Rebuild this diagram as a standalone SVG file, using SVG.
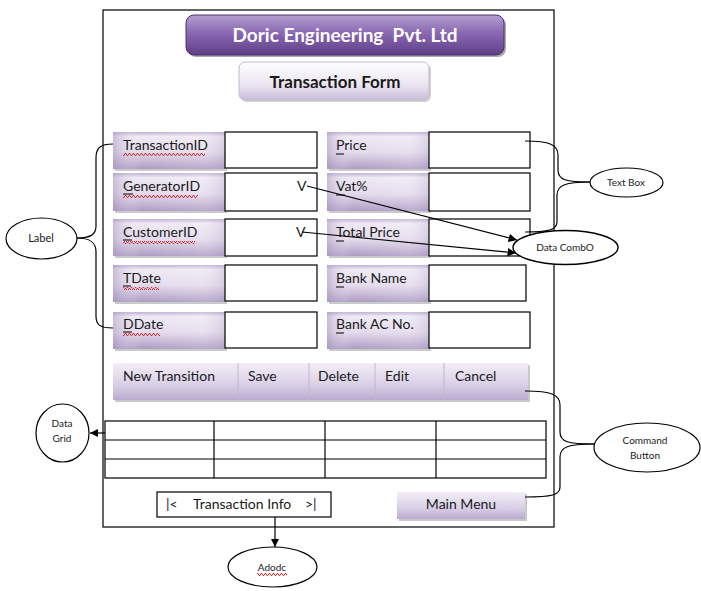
<svg xmlns="http://www.w3.org/2000/svg" width="701" height="591" viewBox="0 0 701 591">
<defs>
<style>
text{font-family:Lato,"Liberation Sans",Arial,sans-serif;fill:#1a1a1a}
.lt{font-size:14px}
.sm{font-size:10px}
.tb{fill:#fff;stroke:#000;stroke-width:1.2}
.lb{fill:url(#lg)}
.lo{fill:url(#lh)}
.sh{fill:#8a8a8a;opacity:0.45}
.ln{fill:none;stroke:#000;stroke-width:1.2}
.el{fill:#fff;stroke:#000;stroke-width:1.2}
.ul{stroke:#000;stroke-width:1}
.sq{fill:url(#sqp)}
</style>
<linearGradient id="lg" x1="0" y1="0" x2="0" y2="1">
<stop offset="0" stop-color="#bfb0d3"/>
<stop offset="0.12" stop-color="#eee9f4"/>
<stop offset="0.55" stop-color="#e3daec"/>
<stop offset="1" stop-color="#ad9bc3"/>
</linearGradient>
<linearGradient id="lh" x1="0" y1="0" x2="1" y2="0">
<stop offset="0" stop-color="#a592bd" stop-opacity="0.5"/>
<stop offset="0.25" stop-color="#ffffff" stop-opacity="0"/>
<stop offset="0.8" stop-color="#ffffff" stop-opacity="0.15"/>
<stop offset="1" stop-color="#b4a4c8" stop-opacity="0.3"/>
</linearGradient>
<linearGradient id="bg" x1="0" y1="0" x2="0" y2="1">
<stop offset="0" stop-color="#f2eef7"/>
<stop offset="0.6" stop-color="#d9cfe6"/>
<stop offset="1" stop-color="#bba9cf"/>
</linearGradient>
<linearGradient id="tg" x1="0" y1="0" x2="0" y2="1">
<stop offset="0" stop-color="#b29ed0"/>
<stop offset="0.45" stop-color="#8a68b2"/>
<stop offset="1" stop-color="#5e3f86"/>
</linearGradient>
<linearGradient id="fg" x1="0" y1="0" x2="0" y2="1">
<stop offset="0" stop-color="#ffffff"/>
<stop offset="0.6" stop-color="#ebe5f2"/>
<stop offset="1" stop-color="#c9bcd9"/>
</linearGradient>
<pattern id="sqp" width="4" height="3" patternUnits="userSpaceOnUse">
<path d="M0,2.5 L1,0.5 L2,0.5 L3,2.5 L4,2.5" fill="none" stroke="#d32020" stroke-width="0.9"/>
</pattern>
<marker id="ah" viewBox="0 0 10 10" refX="10" refY="5" markerWidth="7" markerHeight="7" orient="auto-start-reverse">
<path d="M0,0 L10,5 L0,10 z" fill="#000"/>
</marker>
</defs>
<rect width="701" height="591" fill="#fff"/>

<g id="frame">
<rect x="103" y="10" width="451" height="517" fill="none" stroke="#000" stroke-width="1.2"/>
</g>

<g id="title">
<rect x="188" y="17" width="318" height="40" rx="8" fill="#555" opacity="0.5"/>
<rect x="186" y="15" width="318" height="40" rx="8" fill="url(#tg)" stroke="#4a3270" stroke-width="1"/>
<text x="345" y="42" text-anchor="middle" style="font-size:19px;font-weight:bold;fill:#fff">Doric Engineering&#160; Pvt. Ltd</text>
</g>

<g id="formtitle">
<rect x="241" y="64" width="190" height="38" rx="6" fill="#999" opacity="0.45"/>
<rect x="239" y="62" width="190" height="38" rx="6" fill="url(#fg)" stroke="#c4b8d2" stroke-width="1"/>
<text x="335" y="88" text-anchor="middle" style="font-size:17px;font-weight:bold">Transaction Form</text>
</g>

<g id="f-transactionid">
<rect class="sh" x="115" y="134" width="112" height="37"/><rect class="lb" x="113" y="132" width="112" height="37"/><rect class="lo" x="113" y="132" width="112" height="37"/>
<rect class="tb" x="225" y="132" width="92" height="36"/>
<text class="lt" x="123" y="150">TransactionID</text>
<rect class="sq" x="123" y="153" width="82" height="3"/>
</g>
<g id="f-generatorid">
<rect class="sh" x="115" y="175" width="112" height="38"/><rect class="lb" x="113" y="173" width="112" height="38"/><rect class="lo" x="113" y="173" width="112" height="38"/>
<rect class="tb" x="225" y="173" width="92" height="38"/>
<text class="lt" x="123" y="191">GeneratorID</text>
<line class="ul" x1="123" y1="194" x2="133" y2="194"/>
<rect class="sq" x="123" y="195" width="75" height="3"/>
<text class="lt" x="297" y="191">V</text>
</g>
<g id="f-customerid">
<rect class="sh" x="115" y="221" width="112" height="37"/><rect class="lb" x="113" y="219" width="112" height="37"/><rect class="lo" x="113" y="219" width="112" height="37"/>
<rect class="tb" x="225" y="219" width="92" height="37"/>
<text class="lt" x="123" y="237">CustomerID</text>
<line class="ul" x1="123" y1="240" x2="132" y2="240"/>
<rect class="sq" x="123" y="241" width="72" height="3"/>
<text class="lt" x="296" y="237">V</text>
</g>
<g id="f-tdate">
<rect class="sh" x="115" y="267" width="112" height="37"/><rect class="lb" x="113" y="265" width="112" height="37"/><rect class="lo" x="113" y="265" width="112" height="37"/>
<rect class="tb" x="225" y="265" width="92" height="36"/>
<text class="lt" x="123" y="283">TDate</text>
<line class="ul" x1="123" y1="286" x2="131" y2="286"/>
<rect class="sq" x="123" y="287" width="36" height="3"/>
</g>
<g id="f-ddate">
<rect class="sh" x="115" y="314" width="112" height="37"/><rect class="lb" x="113" y="312" width="112" height="37"/><rect class="lo" x="113" y="312" width="112" height="37"/>
<rect class="tb" x="225" y="312" width="92" height="36"/>
<text class="lt" x="123" y="329">DDate</text>
<line class="ul" x1="123" y1="332" x2="132" y2="332"/>
<rect class="sq" x="123" y="333" width="37" height="3"/>
</g>

<g id="f-price">
<rect class="sh" x="329" y="134" width="102" height="37"/><rect class="lb" x="327" y="132" width="102" height="37"/><rect class="lo" x="327" y="132" width="102" height="37"/>
<rect class="tb" x="429" y="132" width="101" height="36"/>
<text class="lt" x="336" y="150">Price</text>
<line class="ul" x1="336" y1="154" x2="344" y2="154"/>
</g>
<g id="f-vat">
<rect class="sh" x="329" y="175" width="102" height="38"/><rect class="lb" x="327" y="173" width="102" height="38"/><rect class="lo" x="327" y="173" width="102" height="38"/>
<rect class="tb" x="429" y="173" width="101" height="38"/>
<text class="lt" x="336" y="191">Vat%</text>
<line class="ul" x1="336" y1="195" x2="345" y2="195"/>
</g>
<g id="f-totalprice">
<rect class="sh" x="329" y="221" width="102" height="37"/><rect class="lb" x="327" y="219" width="102" height="37"/><rect class="lo" x="327" y="219" width="102" height="37"/>
<rect class="tb" x="429" y="219" width="101" height="37"/>
<text class="lt" x="336" y="237">Total Price</text>
<line class="ul" x1="336" y1="241" x2="344" y2="241"/>
</g>
<g id="f-bankname">
<rect class="sh" x="329" y="267" width="102" height="37"/><rect class="lb" x="327" y="265" width="102" height="37"/><rect class="lo" x="327" y="265" width="102" height="37"/>
<rect class="tb" x="429" y="265" width="97" height="36"/>
<text class="lt" x="336" y="283">Bank Name</text>
<line class="ul" x1="336" y1="287" x2="344" y2="287"/>
</g>
<g id="f-bankac">
<rect class="sh" x="329" y="314" width="102" height="37"/><rect class="lb" x="327" y="312" width="102" height="37"/><rect class="lo" x="327" y="312" width="102" height="37"/>
<rect class="tb" x="429" y="312" width="101" height="36"/>
<text class="lt" x="336" y="329">Bank AC No.</text>
<line class="ul" x1="336" y1="333" x2="344" y2="333"/>
</g>

<g id="buttons">
<rect x="115" y="365" width="415" height="37" fill="#888" opacity="0.45"/>
<rect x="113" y="363" width="415" height="37" fill="url(#bg)"/>
<g stroke="#c2b6cf" stroke-width="1">
<line x1="238" y1="363" x2="238" y2="400"/>
<line x1="309" y1="363" x2="309" y2="400"/>
<line x1="375" y1="363" x2="375" y2="400"/>
<line x1="444" y1="363" x2="444" y2="400"/>
</g>
<text class="lt" x="123" y="381">New Transition</text>
<text class="lt" x="248" y="381">Save</text>
<text class="lt" x="318" y="381">Delete</text>
<text class="lt" x="385" y="381">Edit</text>
<text class="lt" x="455" y="381">Cancel</text>
</g>

<g id="datagrid-table" fill="none" stroke="#000" stroke-width="1.2">
<rect x="105" y="421" width="441" height="57"/>
<line x1="105" y1="440" x2="546" y2="440"/>
<line x1="105" y1="459" x2="546" y2="459"/>
<line x1="214" y1="421" x2="214" y2="478"/>
<line x1="325" y1="421" x2="325" y2="478"/>
<line x1="436" y1="421" x2="436" y2="478"/>
</g>

<g id="navbar">
<rect x="157" y="492" width="174" height="25" fill="#fff" stroke="#000" stroke-width="1.2"/>
<text class="lt" x="166" y="509">|&lt;</text>
<text class="lt" x="193" y="509">Transaction Info</text>
<text class="lt" x="305" y="509">&gt;|</text>
</g>

<g id="mainmenu">
<rect x="399" y="494" width="128" height="27" fill="#888" opacity="0.45"/>
<rect x="397" y="492" width="128" height="27" fill="url(#bg)"/>
<text class="lt" x="461" y="509" text-anchor="middle">Main Menu</text>
</g>

<g id="n-label">
<ellipse class="el" cx="41.5" cy="238.5" rx="35.5" ry="20.5"/>
<text class="sm" x="41" y="242" text-anchor="middle" style="font-size:11px">Label</text>
</g>
<g id="n-textbox">
<ellipse class="el" cx="626.5" cy="182.5" rx="36.5" ry="14.5"/>
<text class="sm" x="626" y="186" text-anchor="middle">Text Box</text>
</g>
<g id="n-datacombo">
<ellipse class="el" cx="565.5" cy="247.5" rx="52.5" ry="17" style="stroke-width:1.4"/>
<text class="sm" x="565" y="251" text-anchor="middle">Data CombO</text>
</g>
<g id="n-datagrid">
<ellipse class="el" cx="62.5" cy="433" rx="26.5" ry="29"/>
<text class="sm" x="62" y="427" text-anchor="middle">Data</text>
<text class="sm" x="62" y="442" text-anchor="middle">Grid</text>
</g>
<g id="n-command">
<ellipse class="el" cx="647" cy="447.5" rx="53" ry="24.5"/>
<text class="sm" x="645" y="444" text-anchor="middle">Command</text>
<text class="sm" x="645" y="459" text-anchor="middle">Button</text>
</g>
<g id="n-adodc">
<ellipse class="el" cx="272.5" cy="567" rx="44.5" ry="20"/>
<text class="sm" x="272" y="571" text-anchor="middle">Adodc</text>
<rect class="sq" x="257" y="573" width="30" height="3"/>
</g>

<g id="connectors">
<path class="ln" d="M113,144 C100,144 96,148 96,158 L96,226 C96,235 90,238 77,238"/>
<path class="ln" d="M77,238 C90,238 96,242 96,252 L96,316 C96,325 100,328 113,328"/>
<path class="ln" d="M525,141 C550,141 558,145 558,155 L558,170 C558,180 566,182 590,182"/>
<path class="ln" d="M590,182 C566,182 557,185 557,195 L557,222 C557,230 548,232 525,232"/>
<path class="ln" d="M525,391 C552,391 560,395 560,405 L560,432 C560,442 568,444 594,444"/>
<path class="ln" d="M594,444 C568,444 560,447 560,457 L560,487 C560,495 552,497 525,497"/>
<line class="ln" x1="307" y1="186" x2="517" y2="240" marker-end="url(#ah)"/>
<line class="ln" x1="302" y1="232" x2="516" y2="253" marker-end="url(#ah)"/>
<line class="ln" x1="105" y1="433" x2="90" y2="433" marker-end="url(#ah)"/>
<line class="ln" x1="275" y1="517" x2="275" y2="547" marker-end="url(#ah)"/>
</g>
</svg>
